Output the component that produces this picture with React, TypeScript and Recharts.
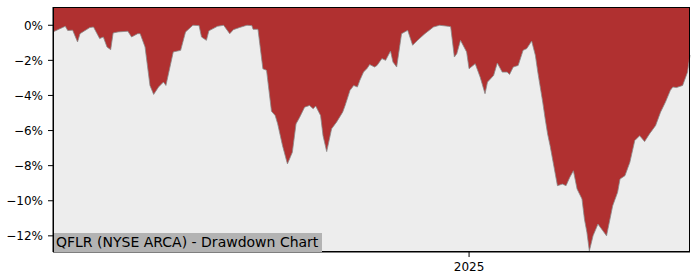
import React from 'react';
import { AreaChart, Area, XAxis, YAxis, CartesianGrid } from 'recharts';

// drawdown values, in percent
const dates = [
  '2024-01-28', '2024-02-07', '2024-02-09', '2024-02-13', '2024-02-17', '2024-02-19', '2024-02-27',
  '2024-03-01', '2024-03-06', '2024-03-09', '2024-03-12', '2024-03-15', '2024-03-17', '2024-03-21',
  '2024-03-29', '2024-04-01', '2024-04-06', '2024-04-08', '2024-04-12', '2024-04-16', '2024-04-19',
  '2024-04-23', '2024-04-27', '2024-04-29', '2024-05-05', '2024-05-11', '2024-05-15', '2024-05-21',
  '2024-05-26', '2024-05-28', '2024-06-01', '2024-06-03', '2024-06-10', '2024-06-15', '2024-06-20',
  '2024-06-23', '2024-06-28', '2024-07-04', '2024-07-08', '2024-07-09', '2024-07-13', '2024-07-17',
  '2024-07-20', '2024-07-24', '2024-07-27', '2024-07-29', '2024-08-02', '2024-08-06', '2024-08-10',
  '2024-08-13', '2024-08-16', '2024-08-20', '2024-08-24', '2024-08-27', '2024-08-29', '2024-09-02',
  '2024-09-04', '2024-09-07', '2024-09-11', '2024-09-15', '2024-09-20', '2024-09-22', '2024-09-26',
  '2024-09-29', '2024-10-02', '2024-10-04', '2024-10-07', '2024-10-10', '2024-10-12', '2024-10-16',
  '2024-10-18', '2024-10-22', '2024-10-25', '2024-10-29', '2024-10-31', '2024-11-03', '2024-11-07',
  '2024-11-12', '2024-11-16', '2024-11-20', '2024-11-26', '2024-12-03', '2024-12-08', '2024-12-15',
  '2024-12-17', '2024-12-20', '2024-12-22', '2024-12-25', '2024-12-30', '2025-01-01', '2025-01-06',
  '2025-01-10', '2025-01-14', '2025-01-16', '2025-01-21', '2025-01-24', '2025-01-28', '2025-02-01',
  '2025-02-03', '2025-02-06', '2025-02-10', '2025-02-14', '2025-02-17', '2025-02-21', '2025-02-24',
  '2025-02-26', '2025-03-02', '2025-03-04', '2025-03-06', '2025-03-08', '2025-03-10', '2025-03-14',
  '2025-03-18', '2025-03-21', '2025-03-24', '2025-03-27', '2025-03-30', '2025-04-03', '2025-04-05',
  '2025-04-07', '2025-04-09', '2025-04-12', '2025-04-16', '2025-04-20', '2025-04-23', '2025-04-28',
  '2025-05-02', '2025-05-04', '2025-05-08', '2025-05-12', '2025-05-16', '2025-05-20', '2025-05-24',
  '2025-05-28', '2025-06-02', '2025-06-06', '2025-06-10', '2025-06-14', '2025-06-16', '2025-06-19',
  '2025-06-24', '2025-06-28', '2025-06-30',
];

const drawdown = [
  -0.38, -0.06, -0.3, -0.28, -0.95, -0.48, -0.13,
  -0.1, -0.76, -0.67, -1.24, -1.39, -0.44, -0.38,
  -0.34, -0.67, -0.48, -0.48, -1.24, -3.43, -3.94,
  -3.52, -3.24, -3.43, -1.52, -1.43, -0.38, 0,
  -0.02, -0.67, -0.86, -0.32, -0.06, 0, -0.48,
  -0.25, -0.13, 0, -0.02, -0.23, -0.23, -2.48,
  -2.57, -4.9, -5.14, -5.6, -6.86, -7.9, -7.24,
  -5.62, -5.24, -4.67, -4.57, -4.76, -4.6, -5.14,
  -6.29, -7.2, -5.9, -5.52, -4.95, -4.57, -3.71,
  -3.43, -3.52, -3.14, -2.67, -2.45, -2.24, -2.38,
  -2.29, -1.9, -2.0, -1.47, -2.1, -2.38, -0.48,
  -0.29, -1.14, -0.86, -0.48, -0.1, 0, -0.06,
  -0.08, -1.81, -1.62, -0.86, -1.52, -2.48, -2.19,
  -2.95, -3.9, -3.24, -2.86, -2.15, -2.67, -2.67,
  -2.8, -2.38, -2.29, -1.43, -1.33, -0.9, -1.71,
  -2.67, -4.38, -5.33, -6.2, -6.86, -7.62, -9.14,
  -9.05, -9.14, -8.67, -8.29, -9.33, -9.9, -11.05,
  -11.8, -12.86, -12.0, -11.33, -11.71, -12.0, -10.29,
  -9.52, -8.76, -8.57, -7.81, -6.57, -6.29, -6.63,
  -6.19, -5.71, -4.95, -4.38, -3.71, -3.52, -3.55,
  -3.43, -2.67, -1.7,
];

const yTicks = [0, -2, -4, -6, -8, -10, -12];
const xTickLabels = ['2025-01-01'];
const title = 'QFLR (NYSE ARCA) - Drawdown Chart';

const toTime = (d: string) => new Date(d + 'T00:00:00Z').getTime();

const data = dates.map((d, i) => ({ t: toTime(d), dd: drawdown[i] }));
const xTicks = xTickLabels.map(toTime);

const FONT = '"DejaVu Sans", sans-serif';
const Y_MIN = -12.92;
const Y_MAX = 1.04;

const fmtPct = (v: number) => (v < 0 ? '\u2212' + Math.abs(v) : String(v)) + '%';
const fmtYear = (v: number) => String(new Date(v).getUTCFullYear());

export default function App() {
  return (
    <div style={{ position: 'absolute', left: 0, top: 0, width: 700, height: 280, background: '#fff', fontFamily: FONT }}>
      <AreaChart width={700} height={280} data={data} margin={{ top: 7, right: 10, bottom: 0, left: 0 }}>
        <CartesianGrid horizontal={false} vertical={false} fill="#ededed" />
        <XAxis
          dataKey="t"
          type="number"
          scale="time"
          domain={[data[0].t, data[data.length - 1].t]}
          ticks={xTicks}
          tickFormatter={fmtYear}
          height={28}
          tickSize={5}
          tickMargin={5}
          axisLine={{ stroke: '#000' }}
          tickLine={{ stroke: '#000' }}
          tick={{ fill: '#000', fontSize: 12, fontFamily: FONT }}
        />
        <YAxis
          type="number"
          domain={[Y_MIN, Y_MAX]}
          ticks={yTicks}
          tickFormatter={fmtPct}
          width={53}
          tickSize={5}
          tickMargin={5}
          allowDataOverflow
          axisLine={{ stroke: '#000' }}
          tickLine={{ stroke: '#000' }}
          tick={{ fill: '#000', fontSize: 12, fontFamily: FONT }}
        />
        <Area
          dataKey="dd"
          type="linear"
          baseValue={Y_MAX}
          fill="#b03030"
          fillOpacity={1}
          stroke="#8a8a8a"
          strokeWidth={0.8}
          isAnimationActive={false}
          dot={false}
          activeDot={false}
        />
      </AreaChart>
      {/* plot frame */}
      <div style={{ position: 'absolute', left: 53, top: 7, width: 637, height: 245, border: '1px solid #000', boxSizing: 'border-box', pointerEvents: 'none' }} />
      <div
        style={{
          position: 'absolute', left: 54, top: 233, height: 19, padding: '0 4px 0 2px',
          background: '#b3b3b3', color: '#000', fontSize: 14, lineHeight: '19px', whiteSpace: 'nowrap',
        }}
      >
        {title}
      </div>
    </div>
  );
}
